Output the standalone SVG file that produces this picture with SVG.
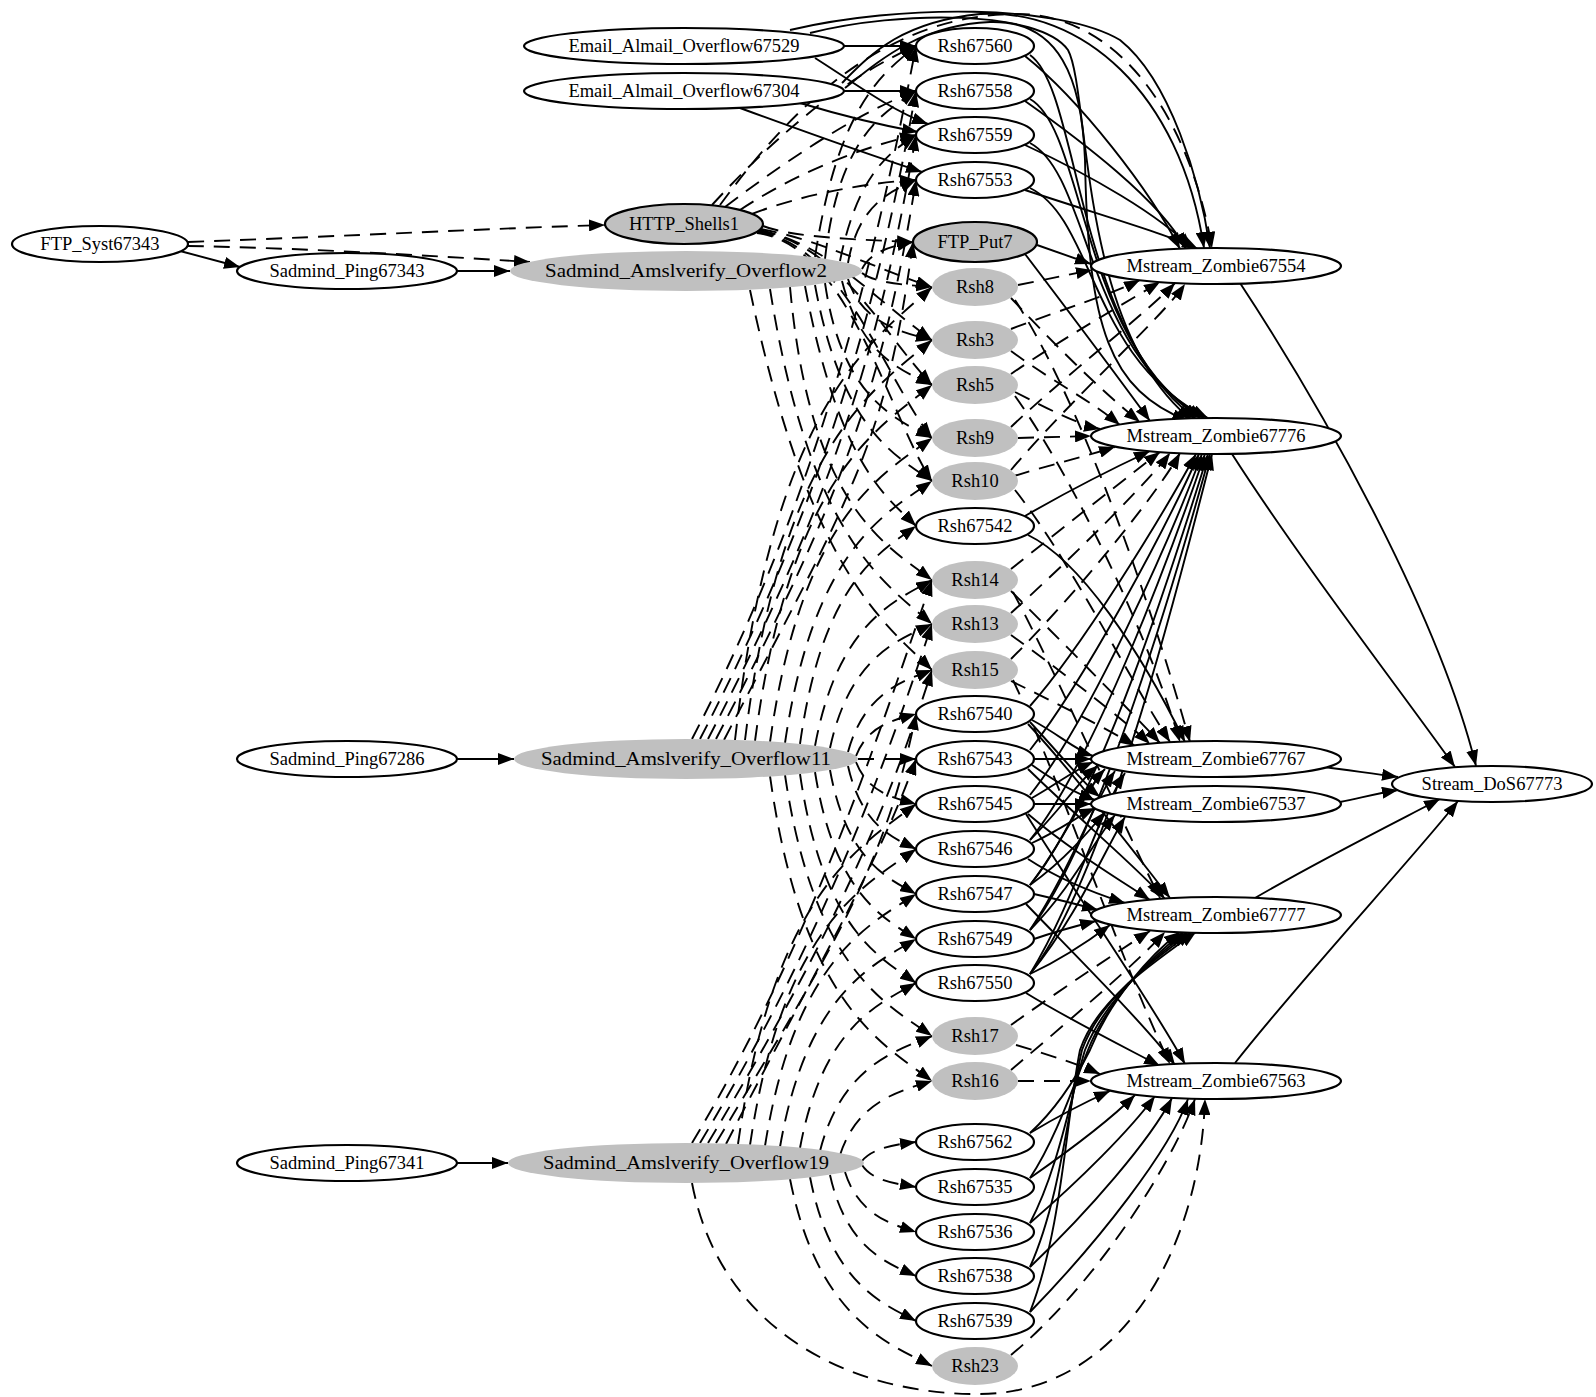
<svg xmlns="http://www.w3.org/2000/svg" width="1596" height="1397" viewBox="0 0 1596 1397">
<style>
.e{fill:none;stroke:#000;stroke-width:1.9;marker-end:url(#ah)}
.d{fill:none;stroke:#000;stroke-width:1.9;stroke-dasharray:16 10;marker-end:url(#ah)}
.w ellipse{fill:#fff;stroke:#000;stroke-width:2.2}
.g ellipse{fill:#c0c0c0;stroke:none}
.gs ellipse{fill:#c0c0c0;stroke:#000;stroke-width:2.2}
text{font-family:"Liberation Serif","Times New Roman",serif;font-size:18.5px;text-anchor:middle;fill:#000}
</style>
<defs>
<marker id="ah" markerUnits="userSpaceOnUse" markerWidth="17" markerHeight="12" refX="16" refY="6" orient="auto"><path d="M0,0 L16,6 L0,12 Z" fill="#000"/></marker>
</defs>
<rect width="1596" height="1397" fill="#fff"/>
<g id="connectors">
<path class="e" d="M180,251 L240,267"/>
<path class="d" d="M188,242 C350,236 500,228 605,225"/>
<path class="d" d="M188,246 C300,248 420,255 530,262"/>
<path class="e" d="M457,271 L510,271"/>
<path class="e" d="M457,759 L514,759"/>
<path class="e" d="M457,1163 L508,1163"/>
<path class="e" d="M844,46 L916,46"/>
<path class="e" d="M844,91 L916,91"/>
<path class="e" d="M815,58 C850,80 890,110 928,124"/>
<path class="e" d="M740,108 C800,130 870,155 922,172"/>
<path class="e" d="M800,103 C840,115 880,125 918,132"/>
<path class="e" d="M790,30 C900,4 1060,4 1120,40 C1170,80 1200,180 1210,248"/>
<path class="e" d="M810,33 C900,10 1040,10 1068,50 C1090,90 1078,330 1192,420"/>
<path class="e" d="M842,83 C870,55 900,22 980,14 C1080,8 1180,90 1204,248"/>
<path class="e" d="M845,88 C880,60 920,25 990,22 C1060,20 1082,80 1085,160 C1088,330 1110,390 1188,421"/>
<path class="d" d="M720,205 C790,110 880,18 1010,14 C1120,10 1190,120 1212,248"/>
<path class="d" d="M712,205 C790,120 860,70 916,46"/>
<path class="d" d="M725,207 C800,150 865,110 916,91"/>
<path class="d" d="M740,210 C800,170 870,145 916,135"/>
<path class="d" d="M752,214 C800,195 870,182 916,180"/>
<path class="d" d="M763,226 C793,238 868,240 913,242"/>
<path class="d" d="M761,229 C820,240 880,270 932,287"/>
<path class="d" d="M760,230 C830,245 875,300 932,340"/>
<path class="d" d="M759,231 C840,245 880,330 932,385"/>
<path class="d" d="M758,232 C845,245 885,380 932,438"/>
<path class="d" d="M757,233 C850,245 890,420 932,481"/>
<path class="d" d="M815,257 C839,99 887,71 916,46"/>
<path class="d" d="M825,259 C839,133 887,111 916,91"/>
<path class="d" d="M840,261 C859,167 895,150 916,135"/>
<path class="d" d="M848,263 C859,201 895,190 916,180"/>
<path class="d" d="M862,269 C872,249 898,245 913,242"/>
<path class="d" d="M862,273 C876,284 911,285 932,287"/>
<path class="d" d="M848,279 C862,325 906,333 932,340"/>
<path class="d" d="M842,281 C862,359 906,372 932,385"/>
<path class="d" d="M825,283 C842,400 898,420 932,438"/>
<path class="d" d="M815,285 C842,432 898,457 932,481"/>
<path class="d" d="M805,286 C839,466 887,497 916,526"/>
<path class="d" d="M790,287 C810,507 886,545 932,580"/>
<path class="d" d="M770,289 C810,540 886,584 932,624"/>
<path class="d" d="M750,290 C810,575 886,624 932,670"/>
<path class="d" d="M692,739 C822,489 878,246 916,46"/>
<path class="d" d="M700,739 C830,489 880,291 916,91"/>
<path class="d" d="M708,739 C838,489 882,335 916,135"/>
<path class="d" d="M716,739 C846,489 884,380 916,180"/>
<path class="d" d="M724,740 C854,490 886,442 913,242"/>
<path class="d" d="M735,740 C774,400 873,341 932,287"/>
<path class="d" d="M745,740 C782,440 876,388 932,340"/>
<path class="d" d="M755,741 C790,474 879,428 932,385"/>
<path class="d" d="M770,742 C802,514 883,474 932,438"/>
<path class="d" d="M785,743 C814,546 888,512 932,481"/>
<path class="d" d="M800,744 C823,580 881,552 916,526"/>
<path class="d" d="M815,746 C838,621 897,600 932,580"/>
<path class="d" d="M830,748 C850,655 901,639 932,624"/>
<path class="d" d="M848,752 C865,690 907,680 932,670"/>
<path class="d" d="M856,756 C868,724 898,719 916,714"/>
<path class="d" d="M858,759 L916,759"/>
<path class="d" d="M856,762 C868,794 898,799 916,804"/>
<path class="d" d="M848,766 C862,828 896,839 916,849"/>
<path class="d" d="M830,770 C847,863 890,879 916,894"/>
<path class="d" d="M815,772 C835,897 886,919 916,939"/>
<path class="d" d="M800,774 C823,931 881,958 916,983"/>
<path class="d" d="M785,775 C814,971 888,1005 932,1036"/>
<path class="d" d="M770,776 C802,1005 883,1044 932,1081"/>
<path class="d" d="M692,1143 C812,943 880,730 932,580"/>
<path class="d" d="M700,1143 C820,943 882,774 932,624"/>
<path class="d" d="M708,1143 C828,943 884,820 932,670"/>
<path class="d" d="M716,1143 C836,943 886,864 916,714"/>
<path class="d" d="M726,1144 C826,950 880,860 916,759"/>
<path class="d" d="M738,1144 C774,889 863,845 916,804"/>
<path class="d" d="M750,1145 C783,923 866,885 916,849"/>
<path class="d" d="M765,1146 C795,957 871,924 916,894"/>
<path class="d" d="M780,1147 C807,991 875,964 916,939"/>
<path class="d" d="M800,1148 C823,1024 881,1003 916,983"/>
<path class="d" d="M820,1151 C842,1065 898,1050 932,1036"/>
<path class="d" d="M840,1155 C858,1099 904,1090 932,1081"/>
<path class="d" d="M862,1161 C873,1147 900,1144 916,1142"/>
<path class="d" d="M862,1165 C873,1182 900,1184 916,1187"/>
<path class="d" d="M845,1172 C859,1217 895,1225 916,1232"/>
<path class="d" d="M830,1175 C847,1251 890,1264 916,1276"/>
<path class="d" d="M810,1177 C831,1285 884,1304 916,1321"/>
<path class="d" d="M790,1179 C818,1319 889,1344 932,1366"/>
<path class="d" d="M692,1183 C720,1330 850,1395 980,1394 C1120,1393 1200,1250 1205,1099"/>
<path class="e" d="M1025,56 C1080,100 1150,190 1180,249"/>
<path class="e" d="M1025,101 C1080,140 1160,200 1186,249"/>
<path class="e" d="M1025,145 C1090,175 1160,215 1192,249"/>
<path class="e" d="M1025,190 C1100,215 1170,235 1198,249"/>
<path class="e" d="M1030,55 C1080,90 1075,330 1196,419"/>
<path class="e" d="M1030,99 C1085,130 1080,340 1200,418"/>
<path class="e" d="M1030,143 C1090,175 1085,350 1204,418"/>
<path class="e" d="M1030,188 C1095,220 1090,360 1208,418"/>
<path class="e" d="M1037,245 L1091,264"/>
<path class="e" d="M1025,254 C1060,300 1120,380 1150,421"/>
<path class="d" d="M1018,285 L1092,270"/>
<path class="d" d="M1011,298 C1050,340 1100,390 1140,422"/>
<path class="d" d="M1011,329 C1060,310 1110,295 1140,280"/>
<path class="d" d="M1011,351 C1050,380 1090,400 1120,425"/>
<path class="d" d="M1011,374 C1060,340 1130,300 1160,282"/>
<path class="d" d="M1015,392 C1050,410 1080,425 1100,429"/>
<path class="d" d="M1011,427 C1060,380 1150,310 1175,283"/>
<path class="d" d="M1018,438 L1091,436"/>
<path class="d" d="M1011,470 C1070,400 1160,320 1185,284"/>
<path class="d" d="M1014,476 C1050,465 1090,455 1115,447"/>
<path class="d" d="M1015,300 C1080,400 1150,600 1190,742"/>
<path class="d" d="M1015,396 C1075,480 1150,640 1180,742"/>
<path class="d" d="M1015,490 C1070,560 1130,680 1170,742"/>
<path class="e" d="M1025,516 C1070,490 1120,465 1150,451"/>
<path class="e" d="M1028,535 C1080,560 1140,650 1185,742"/>
<path class="d" d="M1011,569 C1060,530 1130,475 1160,452"/>
<path class="d" d="M1011,591 C1060,640 1130,710 1160,743"/>
<path class="d" d="M1011,613 C1070,560 1150,480 1170,453"/>
<path class="d" d="M1011,635 C1060,670 1130,725 1150,744"/>
<path class="d" d="M1011,659 C1080,590 1160,490 1180,453"/>
<path class="d" d="M1011,681 C1050,700 1110,730 1135,746"/>
<path class="d" d="M1013,680 C1060,780 1120,960 1170,1064"/>
<path class="d" d="M1013,592 C1060,680 1130,840 1160,898"/>
<path class="e" d="M1030,706 C1080,650 1160,520 1196,454"/>
<path class="e" d="M1030,750 C1085,680 1165,530 1199,454"/>
<path class="e" d="M1030,795 C1090,720 1170,540 1202,454"/>
<path class="e" d="M1030,840 C1095,760 1172,550 1205,454"/>
<path class="e" d="M1030,885 C1100,800 1175,560 1208,454"/>
<path class="e" d="M1030,930 C1100,840 1178,570 1210,454"/>
<path class="e" d="M1030,974 C1105,880 1180,580 1212,454"/>
<path class="e" d="M1032,720 C1060,735 1075,750 1093,756"/>
<path class="e" d="M1034,759 L1091,759"/>
<path class="e" d="M1032,798 C1055,785 1075,770 1093,762"/>
<path class="e" d="M1030,840 C1060,810 1080,780 1097,766"/>
<path class="e" d="M1030,885 C1065,840 1085,790 1105,769"/>
<path class="e" d="M1030,930 C1070,870 1095,800 1115,771"/>
<path class="e" d="M1030,974 C1075,900 1100,810 1125,773"/>
<path class="e" d="M1030,722 C1065,760 1085,785 1100,797"/>
<path class="e" d="M1032,765 C1060,785 1080,795 1095,800"/>
<path class="e" d="M1034,804 L1091,804"/>
<path class="e" d="M1032,843 C1060,830 1080,815 1095,808"/>
<path class="e" d="M1030,885 C1065,860 1090,830 1105,812"/>
<path class="e" d="M1030,930 C1070,890 1095,840 1115,815"/>
<path class="e" d="M1030,974 C1075,920 1105,850 1125,817"/>
<path class="e" d="M1028,724 C1080,780 1140,860 1170,898"/>
<path class="e" d="M1028,769 C1080,820 1140,870 1165,899"/>
<path class="e" d="M1028,814 C1070,850 1120,880 1150,900"/>
<path class="e" d="M1028,859 C1060,880 1100,895 1125,903"/>
<path class="e" d="M1034,894 C1060,900 1080,905 1098,910"/>
<path class="e" d="M1034,939 C1060,930 1080,925 1096,921"/>
<path class="e" d="M1030,974 C1060,960 1090,940 1110,925"/>
<path class="e" d="M1026,814 C1080,900 1150,1000 1185,1064"/>
<path class="e" d="M1026,904 C1080,960 1150,1030 1175,1065"/>
<path class="e" d="M1026,993 C1070,1020 1130,1050 1160,1066"/>
<path class="d" d="M1011,1025 C1060,990 1120,950 1150,931"/>
<path class="d" d="M1016,1045 C1050,1055 1080,1065 1100,1074"/>
<path class="d" d="M1011,1070 C1070,1020 1140,960 1165,932"/>
<path class="d" d="M1018,1081 L1091,1081"/>
<path class="e" d="M1030,1133 C1055,1110 1075,1080 1090,1050 C1110,1000 1150,955 1180,932"/>
<path class="e" d="M1030,1178 C1055,1140 1072,1090 1088,1050 C1108,1000 1150,958 1184,932"/>
<path class="e" d="M1030,1223 C1058,1170 1070,1100 1085,1050 C1105,1000 1150,960 1188,932"/>
<path class="e" d="M1030,1267 C1060,1200 1068,1110 1082,1050 C1100,1000 1150,962 1192,932"/>
<path class="e" d="M1030,1312 C1062,1230 1066,1120 1080,1050 C1097,1000 1150,965 1196,932"/>
<path class="e" d="M1030,1133 C1060,1115 1090,1100 1110,1091"/>
<path class="e" d="M1030,1178 C1070,1150 1110,1120 1135,1095"/>
<path class="e" d="M1030,1223 C1080,1180 1130,1130 1155,1096"/>
<path class="e" d="M1030,1267 C1090,1210 1150,1140 1172,1098"/>
<path class="e" d="M1030,1312 C1100,1240 1170,1150 1188,1099"/>
<path class="d" d="M1011,1355 C1090,1290 1170,1170 1195,1099"/>
<path class="e" d="M1240,283 C1330,420 1440,620 1476,766"/>
<path class="e" d="M1232,454 C1300,560 1400,690 1455,767"/>
<path class="e" d="M1325,767 C1345,770 1370,773 1398,777"/>
<path class="e" d="M1340,802 C1360,798 1375,794 1398,790"/>
<path class="e" d="M1255,898 C1320,860 1400,820 1440,799"/>
<path class="e" d="M1235,1063 C1300,980 1420,850 1458,801"/>
</g>
<g id="n_ftp_syst" class="w"><ellipse cx="100" cy="244" rx="88" ry="18"/><text x="100" y="250">FTP_Syst67343</text></g>
<g id="n_ping67343" class="w"><ellipse cx="347" cy="271" rx="110" ry="18"/><text x="347" y="277">Sadmind_Ping67343</text></g>
<g id="n_ping67286" class="w"><ellipse cx="347" cy="759" rx="110" ry="18"/><text x="347" y="765">Sadmind_Ping67286</text></g>
<g id="n_ping67341" class="w"><ellipse cx="347" cy="1163" rx="110" ry="18"/><text x="347" y="1169">Sadmind_Ping67341</text></g>
<g id="n_email67529" class="w"><ellipse cx="684" cy="46" rx="160" ry="18"/><text x="684" y="52">Email_Almail_Overflow67529</text></g>
<g id="n_email67304" class="w"><ellipse cx="684" cy="91" rx="160" ry="18"/><text x="684" y="97">Email_Almail_Overflow67304</text></g>
<g id="n_http_shells1" class="gs"><ellipse cx="684" cy="224" rx="79" ry="20"/><text x="684" y="230">HTTP_Shells1</text></g>
<g id="n_sao2" class="g"><ellipse cx="686" cy="271" rx="176" ry="20"/><text x="686" y="277" textLength="282" lengthAdjust="spacingAndGlyphs">Sadmind_Amslverify_Overflow2</text></g>
<g id="n_sao11" class="g"><ellipse cx="686" cy="759" rx="172" ry="20"/><text x="686" y="765" textLength="290" lengthAdjust="spacingAndGlyphs">Sadmind_Amslverify_Overflow11</text></g>
<g id="n_sao19" class="g"><ellipse cx="686" cy="1163" rx="178" ry="20"/><text x="686" y="1169" textLength="286" lengthAdjust="spacingAndGlyphs">Sadmind_Amslverify_Overflow19</text></g>
<g id="n_rsh67560" class="w"><ellipse cx="975" cy="46" rx="59" ry="18"/><text x="975" y="52">Rsh67560</text></g>
<g id="n_rsh67558" class="w"><ellipse cx="975" cy="91" rx="59" ry="18"/><text x="975" y="97">Rsh67558</text></g>
<g id="n_rsh67559" class="w"><ellipse cx="975" cy="135" rx="59" ry="18"/><text x="975" y="141">Rsh67559</text></g>
<g id="n_rsh67553" class="w"><ellipse cx="975" cy="180" rx="59" ry="18"/><text x="975" y="186">Rsh67553</text></g>
<g id="n_ftp_put7" class="gs"><ellipse cx="975" cy="242" rx="62" ry="20"/><text x="975" y="248">FTP_Put7</text></g>
<g id="n_rsh8" class="g"><ellipse cx="975" cy="287" rx="43" ry="19"/><text x="975" y="293">Rsh8</text></g>
<g id="n_rsh3" class="g"><ellipse cx="975" cy="340" rx="43" ry="19"/><text x="975" y="346">Rsh3</text></g>
<g id="n_rsh5" class="g"><ellipse cx="975" cy="385" rx="43" ry="19"/><text x="975" y="391">Rsh5</text></g>
<g id="n_rsh9" class="g"><ellipse cx="975" cy="438" rx="43" ry="19"/><text x="975" y="444">Rsh9</text></g>
<g id="n_rsh10" class="g"><ellipse cx="975" cy="481" rx="43" ry="19"/><text x="975" y="487">Rsh10</text></g>
<g id="n_rsh67542" class="w"><ellipse cx="975" cy="526" rx="59" ry="18"/><text x="975" y="532">Rsh67542</text></g>
<g id="n_rsh14" class="g"><ellipse cx="975" cy="580" rx="43" ry="19"/><text x="975" y="586">Rsh14</text></g>
<g id="n_rsh13" class="g"><ellipse cx="975" cy="624" rx="43" ry="19"/><text x="975" y="630">Rsh13</text></g>
<g id="n_rsh15" class="g"><ellipse cx="975" cy="670" rx="43" ry="19"/><text x="975" y="676">Rsh15</text></g>
<g id="n_rsh67540" class="w"><ellipse cx="975" cy="714" rx="59" ry="18"/><text x="975" y="720">Rsh67540</text></g>
<g id="n_rsh67543" class="w"><ellipse cx="975" cy="759" rx="59" ry="18"/><text x="975" y="765">Rsh67543</text></g>
<g id="n_rsh67545" class="w"><ellipse cx="975" cy="804" rx="59" ry="18"/><text x="975" y="810">Rsh67545</text></g>
<g id="n_rsh67546" class="w"><ellipse cx="975" cy="849" rx="59" ry="18"/><text x="975" y="855">Rsh67546</text></g>
<g id="n_rsh67547" class="w"><ellipse cx="975" cy="894" rx="59" ry="18"/><text x="975" y="900">Rsh67547</text></g>
<g id="n_rsh67549" class="w"><ellipse cx="975" cy="939" rx="59" ry="18"/><text x="975" y="945">Rsh67549</text></g>
<g id="n_rsh67550" class="w"><ellipse cx="975" cy="983" rx="59" ry="18"/><text x="975" y="989">Rsh67550</text></g>
<g id="n_rsh17" class="g"><ellipse cx="975" cy="1036" rx="43" ry="19"/><text x="975" y="1042">Rsh17</text></g>
<g id="n_rsh16" class="g"><ellipse cx="975" cy="1081" rx="43" ry="19"/><text x="975" y="1087">Rsh16</text></g>
<g id="n_rsh67562" class="w"><ellipse cx="975" cy="1142" rx="59" ry="18"/><text x="975" y="1148">Rsh67562</text></g>
<g id="n_rsh67535" class="w"><ellipse cx="975" cy="1187" rx="59" ry="18"/><text x="975" y="1193">Rsh67535</text></g>
<g id="n_rsh67536" class="w"><ellipse cx="975" cy="1232" rx="59" ry="18"/><text x="975" y="1238">Rsh67536</text></g>
<g id="n_rsh67538" class="w"><ellipse cx="975" cy="1276" rx="59" ry="18"/><text x="975" y="1282">Rsh67538</text></g>
<g id="n_rsh67539" class="w"><ellipse cx="975" cy="1321" rx="59" ry="18"/><text x="975" y="1327">Rsh67539</text></g>
<g id="n_rsh23" class="g"><ellipse cx="975" cy="1366" rx="43" ry="19"/><text x="975" y="1372">Rsh23</text></g>
<g id="n_mz67554" class="w"><ellipse cx="1216" cy="266" rx="125" ry="18"/><text x="1216" y="272">Mstream_Zombie67554</text></g>
<g id="n_mz67776" class="w"><ellipse cx="1216" cy="436" rx="125" ry="18"/><text x="1216" y="442">Mstream_Zombie67776</text></g>
<g id="n_mz67767" class="w"><ellipse cx="1216" cy="759" rx="125" ry="18"/><text x="1216" y="765">Mstream_Zombie67767</text></g>
<g id="n_mz67537" class="w"><ellipse cx="1216" cy="804" rx="125" ry="18"/><text x="1216" y="810">Mstream_Zombie67537</text></g>
<g id="n_mz67777" class="w"><ellipse cx="1216" cy="915" rx="125" ry="18"/><text x="1216" y="921">Mstream_Zombie67777</text></g>
<g id="n_mz67563" class="w"><ellipse cx="1216" cy="1081" rx="125" ry="18"/><text x="1216" y="1087">Mstream_Zombie67563</text></g>
<g id="n_stream_dos67773" class="w"><ellipse cx="1492" cy="784" rx="100" ry="18"/><text x="1492" y="790">Stream_DoS67773</text></g>
</svg>
